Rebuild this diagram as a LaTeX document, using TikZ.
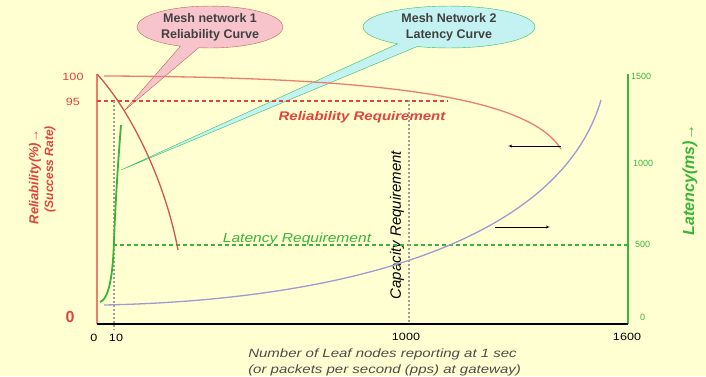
\documentclass[tikz,border=0pt]{standalone}
\usepackage{fontspec}
\setmainfont{Liberation Sans}
\usepackage{tikz}
\usetikzlibrary{shapes,shapes.callouts,arrows}
\definecolor{paper}{HTML}{FFFFD2}
\definecolor{relred}{HTML}{E0443A}
\definecolor{salmon}{HTML}{EE7E6C}
\definecolor{darkred}{HTML}{D4544C}
\definecolor{latgreen}{HTML}{3AB43A}
\definecolor{lavender}{HTML}{9C9CD2}
\definecolor{pinkfill}{HTML}{F7C4CC}
\definecolor{cyanfill}{HTML}{C4F2F2}
\definecolor{dotgray}{HTML}{9E9E96}
\tikzstyle{callout} = [ellipse callout, draw, align=center, text=black!75,
    font=\bfseries\fontsize{12.5}{16}\selectfont, minimum width=146pt, minimum height=40pt, inner sep=1pt]
\tikzstyle{tick} = [font=\fontsize{9}{10}\selectfont, inner sep=0pt]
\tikzstyle{bigtick} = [font=\fontsize{10.5}{12}\selectfont, inner sep=0pt, xscale=1.2]
\tikzstyle{req} = [font=\bfseries\itshape\fontsize{12.5}{14}\selectfont, inner sep=0pt, xscale=1.2]
\tikzstyle{axislabel} = [font=\bfseries\itshape\fontsize{12}{14}\selectfont, inner sep=0pt, rotate=90]
\tikzstyle{curve} = [draw, line width=1.3pt]
\tikzstyle{reqline} = [line width=1.05pt, dash pattern=on 4pt off 3pt]
\tikzstyle{capline} = [draw=dotgray, line width=1.9pt, dash pattern=on 2pt off 2pt]
\tikzstyle{line} = [draw, -latex']

\begin{document}
\begin{tikzpicture}[x=1pt, y=-1pt]
    \fill [paper] (0,0) rectangle (706,376);
    \useasboundingbox (0,0) rectangle (706,376);
    % Place nodes
    \coordinate (origin) at (97,324);
    \coordinate (xend) at (628,324);
    \coordinate (ltop) at (97,74);
    \coordinate (rtop) at (628,74);
    \coordinate (m1tip) at (124,111);
    \coordinate (m2tip) at (121,170);
    \node [callout, fill=pinkfill, draw=salmon!80!black, callout absolute pointer={(m1tip)}] (mesh1) at (210,27) {Mesh network 1\\Reliability Curve};
    \node [callout, fill=cyanfill, draw=latgreen!80!cyan, minimum width=172pt, callout absolute pointer={(m2tip)}] (mesh2) at (449,27) {Mesh Network 2\\Latency Curve};
    \node [bigtick, text=relred] (y100) at (73,77) {100};
    \node [bigtick, text=relred] (y95) at (73,102) {95};
    \node [tick, text=relred, font=\bfseries\fontsize{16}{16}\selectfont] (y0) at (70,317) {0};
    \node [tick, text=latgreen, anchor=west] (r1500) at (631,76) {1500};
    \node [tick, text=latgreen, anchor=west] (r1000) at (633,163) {1000};
    \node [tick, text=latgreen, anchor=west] (r500) at (635,244) {500};
    \node [tick, text=latgreen, anchor=west] (r0) at (640,317) {0};
    \node [bigtick] (x0) at (94,338) {0};
    \node [bigtick] (x10) at (116,338) {10};
    \node [bigtick] (x1000) at (406,337) {1000};
    \node [bigtick] (x1600) at (627,337) {1600};
    \node [req, text=relred] (relreq) at (362,117) {Reliability Requirement};
    \node [req, text=latgreen, font=\itshape\fontsize{13}{14}\selectfont] (latreq) at (297,239) {Latency Requirement};
    \node [axislabel, font=\itshape\fontsize{15}{16}\selectfont] (capreq) at (397,225) {Capacity Requirement};
    \node [axislabel, text=relred, font=\bfseries\itshape\fontsize{13}{14}\selectfont] (relaxis) at (35,177) {Reliability(\%)→};
    \node [axislabel, text=relred] (succ) at (50,169) {(Success Rate)};
    \node [axislabel, text=latgreen, font=\bfseries\itshape\fontsize{16}{18}\selectfont] (lataxis) at (690,180) {Latency(ms)→};
    \node [text=black!70, align=left, anchor=west, xscale=1.25, font=\itshape\fontsize{12}{16}\selectfont, inner sep=0pt] (xlabel) at (248,362) {Number of Leaf nodes reporting at 1 sec\\(or packets per second (pps) at gateway)};
    \coordinate (relhead) at (508,146);
    \coordinate (reltail) at (561,146);
    \coordinate (lattail) at (495,227);
    \coordinate (lathead) at (550,227);

    % Draw edges
    \draw [salmon, line width=1.3pt] (origin) -- (ltop);
    \draw [latgreen, line width=1.3pt] (xend) -- (rtop);
    \draw [black, line width=1.2pt] (origin) -- (xend);
    \draw [draw=relred, reqline] (97,101) -- (448,101);
    \draw [draw=latgreen, reqline] (113,245) -- (xend |- 0,245);
    \draw [capline] (114,101) -- (114,330);
    \draw [capline] (409,100) -- (409,322);
    \path [curve, salmon] (104,76) .. controls (400,77) and (530,100) .. (561,149);
    \path [curve, darkred] (ltop) .. controls (130,110) and (165,180) .. (178,250);
    \path [curve, lavender] (104,305) .. controls (350,300) and (560,240) .. (601,100);
    \path [curve, latgreen, line width=1.8pt] (100,302) .. controls (109,299) and (113,275) .. (114,240) .. controls (116,190) and (119,150) .. (121,125);
    \path [line, black] (reltail) -- (relhead);
    \path [line, black] (lattail) -- (lathead);
\end{tikzpicture}
\end{document}
